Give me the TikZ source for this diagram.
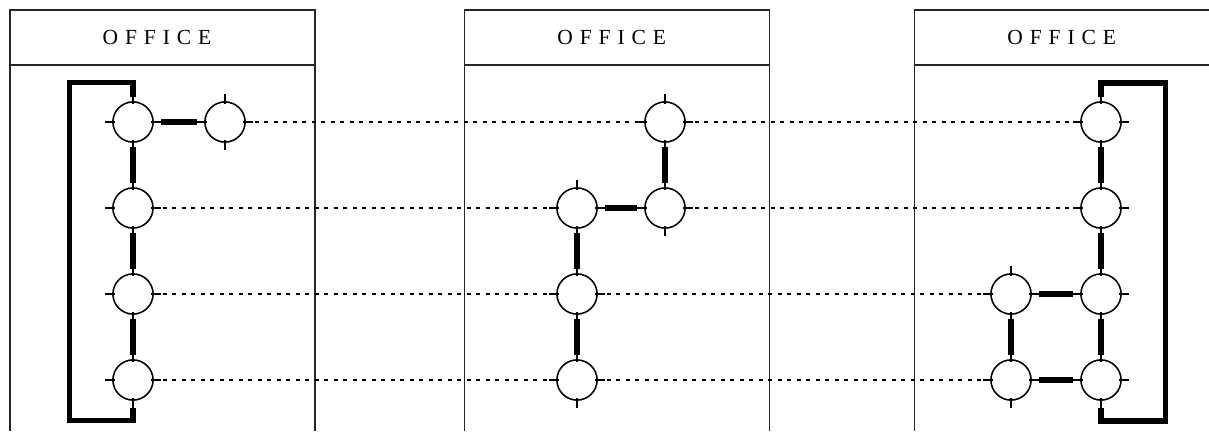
\documentclass[tikz,border=0pt]{standalone}
\usepackage{fontspec}
\setmainfont{Liberation Serif}
\usetikzlibrary{calc}
\newcommand{\officelabel}{O\kern6.9pt F\kern6.9pt F\kern6.9pt I\kern6.9pt C\kern6.9pt E}
\tikzset{
  frame/.style={draw=black!85, line width=1.2pt},
  title/.style={font=\fontsize{21.5}{21.5}\selectfont, text=black, inner sep=0pt, anchor=center},
  port/.style={circle, draw=black, line width=1.4pt, minimum size=40pt, inner sep=0pt, outer sep=0pt, fill=white},
  tick/.style={draw=black, line width=1.2pt},
  hlink/.style={draw=black, line width=5.5pt, shorten <=8pt, shorten >=8pt},
  vlink/.style={draw=black, line width=5.5pt, shorten <=5pt, shorten >=5pt},
  bracket/.style={draw=black, line width=5.5pt, line join=miter},
  trunk/.style={draw=black, line width=1.2pt, dash pattern=on 4pt off 5.5pt}
}
\begin{document}
\begin{tikzpicture}[x=1pt, y=-1pt]
  \clip (0,0) rectangle (1209,431);
  \fill[white] (0,0) rectangle (1209,431);

  % three office enclosures, open at the bottom
  \foreach \l in {10, 464.5, 914.5} {
    \draw[frame] (\l,431) -- (\l,10) -- (\l+305,10) -- (\l+305,431);
    \draw[frame] (\l,65) -- (\l+305,65);
  }
  \node[title] (t1) at (157,37.5) {\officelabel};
  \node[title] (t2) at (611.7,37.5) {\officelabel};
  \node[title] (t3) at (1061.7,37.5) {\officelabel};

  % ports
  \node[port] (a1) at (133,122) {};
  \node[port] (a2) at (133,208) {};
  \node[port] (a3) at (133,294) {};
  \node[port] (a4) at (133,380) {};
  \node[port] (b1) at (225,122) {};

  \node[port] (d1) at (665,122) {};
  \node[port] (d2) at (665,208) {};
  \node[port] (c2) at (577,208) {};
  \node[port] (c3) at (577,294) {};
  \node[port] (c4) at (577,380) {};

  \node[port] (e1) at (1101,122) {};
  \node[port] (e2) at (1101,208) {};
  \node[port] (e3) at (1101,294) {};
  \node[port] (e4) at (1101,380) {};
  \node[port] (f3) at (1011,294) {};
  \node[port] (f4) at (1011,380) {};

  % trunk lines between offices
  \draw[trunk] (b1.east) -- (d1.west);
  \draw[trunk] (d1.east) -- (e1.west);
  \draw[trunk] (a2.east) -- (c2.west);
  \draw[trunk] (d2.east) -- (e2.west);
  \draw[trunk] (a3.east) -- (c3.west);
  \draw[trunk] (c3.east) -- (f3.west);
  \draw[trunk] (a4.east) -- (c4.west);
  \draw[trunk] (c4.east) -- (f4.west);

  % redraw ports over the trunk lines, with their four ticks
  \foreach \n in {a1,a2,a3,a4,b1,d1,d2,c2,c3,c4,e1,e2,e3,e4,f3,f4} {
    \draw[port] (\n.center) circle[radius=20pt];
    \draw[tick] ([yshift=-2pt]\n.north) -- ([yshift=8pt]\n.north);
    \draw[tick] ([yshift=2pt]\n.south) -- ([yshift=-8pt]\n.south);
    \draw[tick] ([xshift=-2pt]\n.east) -- ([xshift=8pt]\n.east);
    \draw[tick] ([xshift=2pt]\n.west) -- ([xshift=-8pt]\n.west);
  }

  % heavy links inside the offices
  \draw[hlink] (a1) -- (b1);
  \draw[vlink] (a1) -- (a2);
  \draw[vlink] (a2) -- (a3);
  \draw[vlink] (a3) -- (a4);

  \draw[vlink] (d1) -- (d2);
  \draw[hlink] (c2) -- (d2);
  \draw[vlink] (c2) -- (c3);
  \draw[vlink] (c3) -- (c4);

  \draw[vlink] (e1) -- (e2);
  \draw[vlink] (e2) -- (e3);
  \draw[vlink] (e3) -- (e4);
  \draw[hlink] (f3) -- (e3);
  \draw[hlink] (f4) -- (e4);
  \draw[vlink] (f3) -- (f4);

  % loop-back brackets
  \draw[bracket] ([yshift=5pt]a1.north) |- (69.5,82.5) |- ([yshift=-20.5pt]a4.south) -- ([yshift=-8pt]a4.south);
  \draw[bracket] ([yshift=5pt]e1.north) |- (1165.5,83) |- ([yshift=-21pt]e4.south) -- ([yshift=-8pt]e4.south);
\end{tikzpicture}
\end{document}
